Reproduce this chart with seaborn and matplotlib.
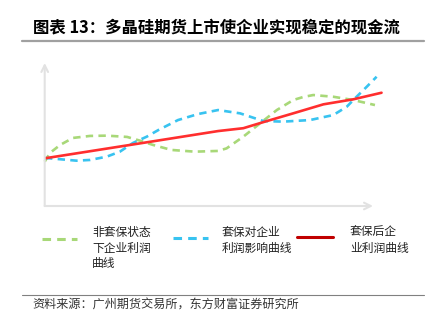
import matplotlib
matplotlib.use("Agg")
import matplotlib.pyplot as plt
import seaborn as sns
from matplotlib.lines import Line2D

sns.set_theme(style="white")
plt.rcParams['font.family'] = ['Noto Sans CJK SC', 'DejaVu Sans']

# ---- data (arbitrary units 0-10) ----
green_x = [0.0, 0.16, 0.47, 0.86, 1.38, 1.90, 2.51, 2.90, 3.30, 3.86, 4.57, 5.28, 5.54, 6.05, 6.56, 7.07, 7.57, 7.87, 8.18, 8.79, 9.40, 10.06]
green_y = [3.10, 3.71, 4.27, 4.76, 4.90, 4.92, 4.83, 4.57, 4.27, 3.92, 3.80, 3.85, 4.03, 4.85, 5.78, 6.71, 7.41, 7.62, 7.76, 7.64, 7.41, 7.06]

blue_x = [0.01, 0.47, 0.97, 1.38, 1.89, 2.29, 2.69, 3.11, 3.46, 4.06, 4.67, 5.28, 5.95, 6.66, 7.27, 8.08, 8.79, 9.20, 9.50, 9.81, 10.11]
blue_y = [3.36, 3.27, 3.17, 3.22, 3.45, 3.80, 4.41, 4.85, 5.31, 6.01, 6.43, 6.71, 6.48, 5.94, 5.90, 6.01, 6.36, 6.94, 7.64, 8.34, 9.04]

red_x = [0.02, 2.6, 5.28, 6.05, 6.71, 7.57, 8.49, 9.40, 10.26]
red_y = [3.34, 4.27, 5.24, 5.44, 5.90, 6.48, 7.11, 7.46, 7.92]

labels = ["非套保状态\n下企业利润\n曲线", "套保对企业\n利润影响曲线", "套保后企\n业利润曲线"]
title = "图表 13：多晶硅期货上市使企业实现稳定的现金流"
source = "资料来源：广州期货交易所，东方财富证券研究所"

c_green = "#A8D878"
c_blue = "#38C3F0"
c_red = "#FF2E2E"
c_red_leg = "#C00000"
axis_col = "#E2E2E2"

W, H = 434, 326
fig = plt.figure(figsize=(W / 100, H / 100), dpi=100)
fig.patch.set_facecolor("white")

# axes placed so data 0..10 spans the arrow axes
ax = fig.add_axes([44.7 / W, (H - 206) / H, (373 - 44.7) / W, (206 - 63) / H])
ax.set_xlim(0, 10)
ax.set_ylim(0, 10)
for s in ax.spines.values():
    s.set_visible(False)
ax.set_xticks([])
ax.set_yticks([])
ax.set_facecolor("none")

dash = (0, (2.8, 2.0))
sns.lineplot(x=green_x, y=green_y, ax=ax, color=c_green, lw=1.9, linestyle=dash, sort=False)
sns.lineplot(x=blue_x, y=blue_y, ax=ax, color=c_blue, lw=1.9, linestyle=dash, sort=False)
sns.lineplot(x=red_x, y=red_y, ax=ax, color=c_red, lw=1.9, sort=False)
for ln in ax.get_lines():
    ln.set_clip_on(False)
    ln.set_solid_joinstyle("round")
    ln.set_dash_joinstyle("round")

# arrow axes
ax.annotate("", xy=(1, 0), xytext=(0, 0), xycoords="axes fraction",
            arrowprops=dict(arrowstyle="->", color=axis_col, lw=1.5, shrinkA=0, shrinkB=0))
ax.annotate("", xy=(0, 1), xytext=(0, 0), xycoords="axes fraction",
            arrowprops=dict(arrowstyle="->", color=axis_col, lw=1.5, shrinkA=0, shrinkB=0))

# title and rules
fig.text(33 / W, 1 - 27 / H, title, fontsize=11.8, fontweight="bold", va="center", ha="left", color="#000000")
fig.add_artist(Line2D([22 / W, 424 / W], [1 - 40.5 / H, 1 - 40.5 / H], color="#A0A0A0", lw=1.6))
fig.add_artist(Line2D([22 / W, 424 / W], [1 - 295 / H, 1 - 295 / H], color="#808080", lw=0.8))
fig.text(32 / W, 1 - 305 / H, source, fontsize=8.7, va="center", ha="left", color="#333333")

# legend (manual layout)
leg = [
    (42, 77, 239, c_green, dash, 92, labels[0]),
    (173, 208, 238, c_blue, dash, 222, labels[1]),
    (297, 333, 237, c_red_leg, "-", 350, labels[2]),
]
for x0, x1, yy, col, ls, tx, lab in leg:
    fig.add_artist(Line2D([x0 / W, x1 / W], [1 - yy / H, 1 - yy / H], color=col, lw=2.2, linestyle=ls))
    fig.text(tx / W, 1 - 226 / H, lab, fontsize=8.5, va="top", ha="left", color="#222222", linespacing=1.25)

fig.savefig("out.png", dpi=100, facecolor="white")
